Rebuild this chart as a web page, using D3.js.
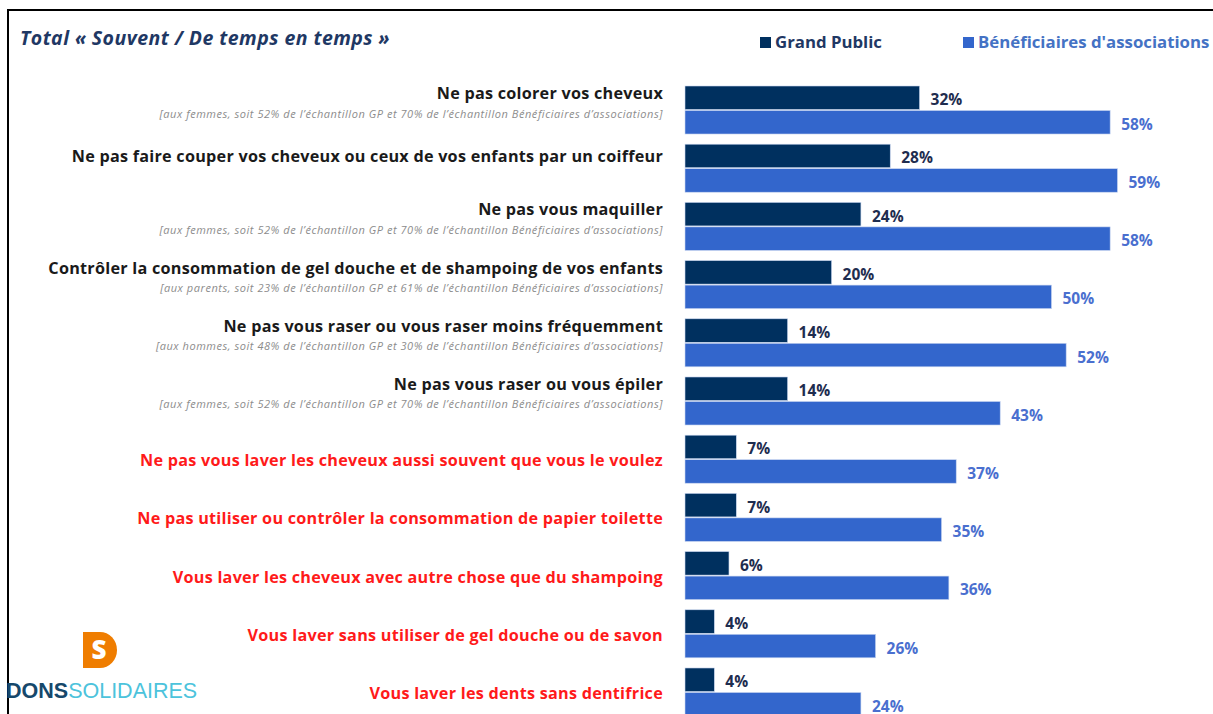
<!DOCTYPE html>
<html lang="fr">
<head>
    <meta charset="UTF-8">
    <title>Total « Souvent / De temps en temps »</title>
    <style>
        body { margin: 0; background: #fff; }
        svg { display: block; font-family: "Open Sans", sans-serif; }
        .label { font-weight: 700; font-size: 16.2px; letter-spacing: 0.25px; }
        .note { font-style: italic; font-size: 11px; letter-spacing: 0.55px; fill: #8c8c8c; }
        .val { font-weight: 700; font-size: 15.5px; }
    </style>
    <script src="https://d3js.org/d3.v7.min.js"></script>
</head>
<body>
    <svg width="1213" height="714"></svg>
    <script>
        const categories = [
            "Ne pas colorer vos cheveux",
            "Ne pas faire couper vos cheveux ou ceux de vos enfants par un coiffeur",
            "Ne pas vous maquiller",
            "Contrôler la consommation de gel douche et de shampoing de vos enfants",
            "Ne pas vous raser ou vous raser moins fréquemment",
            "Ne pas vous raser ou vous épiler",
            "Ne pas vous laver les cheveux aussi souvent que vous le voulez",
            "Ne pas utiliser ou contrôler la consommation de papier toilette",
            "Vous laver les cheveux avec autre chose que du shampoing",
            "Vous laver sans utiliser de gel douche ou de savon",
            "Vous laver les dents sans dentifrice"
        ];
        const notes = [
            "[aux femmes, soit 52% de l’échantillon GP et 70% de l’échantillon Bénéficiaires d’associations]",
            "",
            "[aux femmes, soit 52% de l’échantillon GP et 70% de l’échantillon Bénéficiaires d’associations]",
            "[aux parents, soit 23% de l’échantillon GP et 61% de l’échantillon Bénéficiaires d’associations]",
            "[aux hommes, soit 48% de l’échantillon GP et 30% de l’échantillon Bénéficiaires d’associations]",
            "[aux femmes, soit 52% de l’échantillon GP et 70% de l’échantillon Bénéficiaires d’associations]",
            "", "", "", "", ""
        ];
        // rows highlighted in red in the original slide
        const highlighted = [false, false, false, false, false, false, true, true, true, true, true];
        const seriesNames = ["Grand Public", "Bénéficiaires d'associations"];
        const grandPublic = [32, 28, 24, 20, 14, 14, 7, 7, 6, 4, 4];
        const beneficiaires = [58, 59, 58, 50, 52, 43, 37, 35, 36, 26, 24];

        const colors = ["#00305f", "#3366cc"];
        const valColors = ["#1f2d4f", "#4a6fcf"];

        const svg = d3.select("svg");

        // frame
        svg.append("path")
            .attr("d", "M8,714 V10 H1213")
            .attr("fill", "none")
            .attr("stroke", "#000")
            .attr("stroke-width", 2);

        // title
        svg.append("text")
            .attr("x", 20).attr("y", 45)
            .attr("fill", "#1f3864")
            .style("font-weight", 700)
            .style("font-style", "italic")
            .style("font-size", "19.5px")
            .style("letter-spacing", "0.45px")
            .text("Total « Souvent / De temps en temps »");

        // legend
        const legendX = [760, 963];
        seriesNames.forEach((name, i) => {
            svg.append("rect")
                .attr("x", legendX[i]).attr("y", 37)
                .attr("width", 11).attr("height", 11)
                .attr("fill", colors[i]);
            svg.append("text")
                .attr("x", legendX[i] + 15).attr("y", 48)
                .attr("fill", i === 0 ? "#1f3864" : "#4472c4")
                .style("font-weight", 700)
                .style("font-size", "16.8px")
                .text(name);
        });

        const x = d3.scaleLinear().domain([0, 100]).range([685, 685 + 733]);
        const y = d3.scaleBand().domain(categories).range([86, 716])
            .paddingInner(0.175).paddingOuter(0);
        const ySub = d3.scaleBand().domain([0, 1]).range([0, y.bandwidth()]).paddingInner(0.04);

        const rows = categories.map((c, i) => ({
            cat: c, note: notes[i], red: highlighted[i],
            values: [grandPublic[i], beneficiaires[i]]
        }));

        const g = svg.append("g").selectAll("g")
            .data(rows)
            .enter().append("g")
            .attr("transform", d => `translate(0,${y(d.cat)})`);

        g.selectAll("rect")
            .data(d => d.values.map((v, k) => ({ v, k })))
            .enter().append("rect")
            .attr("x", x(0))
            .attr("y", d => ySub(d.k))
            .attr("width", d => x(d.v) - x(0))
            .attr("height", ySub.bandwidth())
            .attr("fill", d => colors[d.k])
            .attr("stroke", "#c9d6f0")
            .attr("stroke-width", 0.6);

        g.selectAll("text.val")
            .data(d => d.values.map((v, k) => ({ v, k })))
            .enter().append("text")
            .attr("class", "val")
            .attr("x", d => x(d.v) + 11)
            .attr("y", d => ySub(d.k) + ySub.bandwidth() / 2 + 1.5)
            .attr("dominant-baseline", "central")
            .attr("fill", d => valColors[d.k])
            .text(d => d.v + "%");

        g.append("text")
            .attr("class", "label")
            .attr("x", 663)
            .attr("y", d => d.note ? 7 : (d.red ? 25 : 12))
            .attr("dominant-baseline", "central")
            .attr("text-anchor", "end")
            .attr("fill", d => d.red ? "#ff1a1a" : "#1a1a1a")
            .text(d => d.cat);

        g.filter(d => d.note).append("text")
            .attr("class", "note")
            .attr("x", 663)
            .attr("y", 27)
            .attr("dominant-baseline", "central")
            .attr("text-anchor", "end")
            .text(d => d.note);

        // logo
        const logo = svg.append("g");
        logo.append("path")
            .attr("d", "M83,632 H100 A17,18 0 0 1 100,668 H83 Z")
            .attr("fill", "#ef7d00");
        logo.append("text")
            .attr("x", 99).attr("y", 659)
            .attr("text-anchor", "middle")
            .attr("fill", "#fff")
            .style("font-weight", 800)
            .style("font-size", "26px")
            .text("S");
        const brand = logo.append("text")
            .attr("x", 6).attr("y", 698)
            .style("font-family", "'Liberation Sans', Arial, sans-serif")
            .style("font-size", "21.5px");
        brand.append("tspan").attr("fill", "#16486b").style("font-weight", 700).text("DONS");
        brand.append("tspan").attr("fill", "#4cc3dc").text("SOLIDAIRES");
    </script>
</body>
</html>
